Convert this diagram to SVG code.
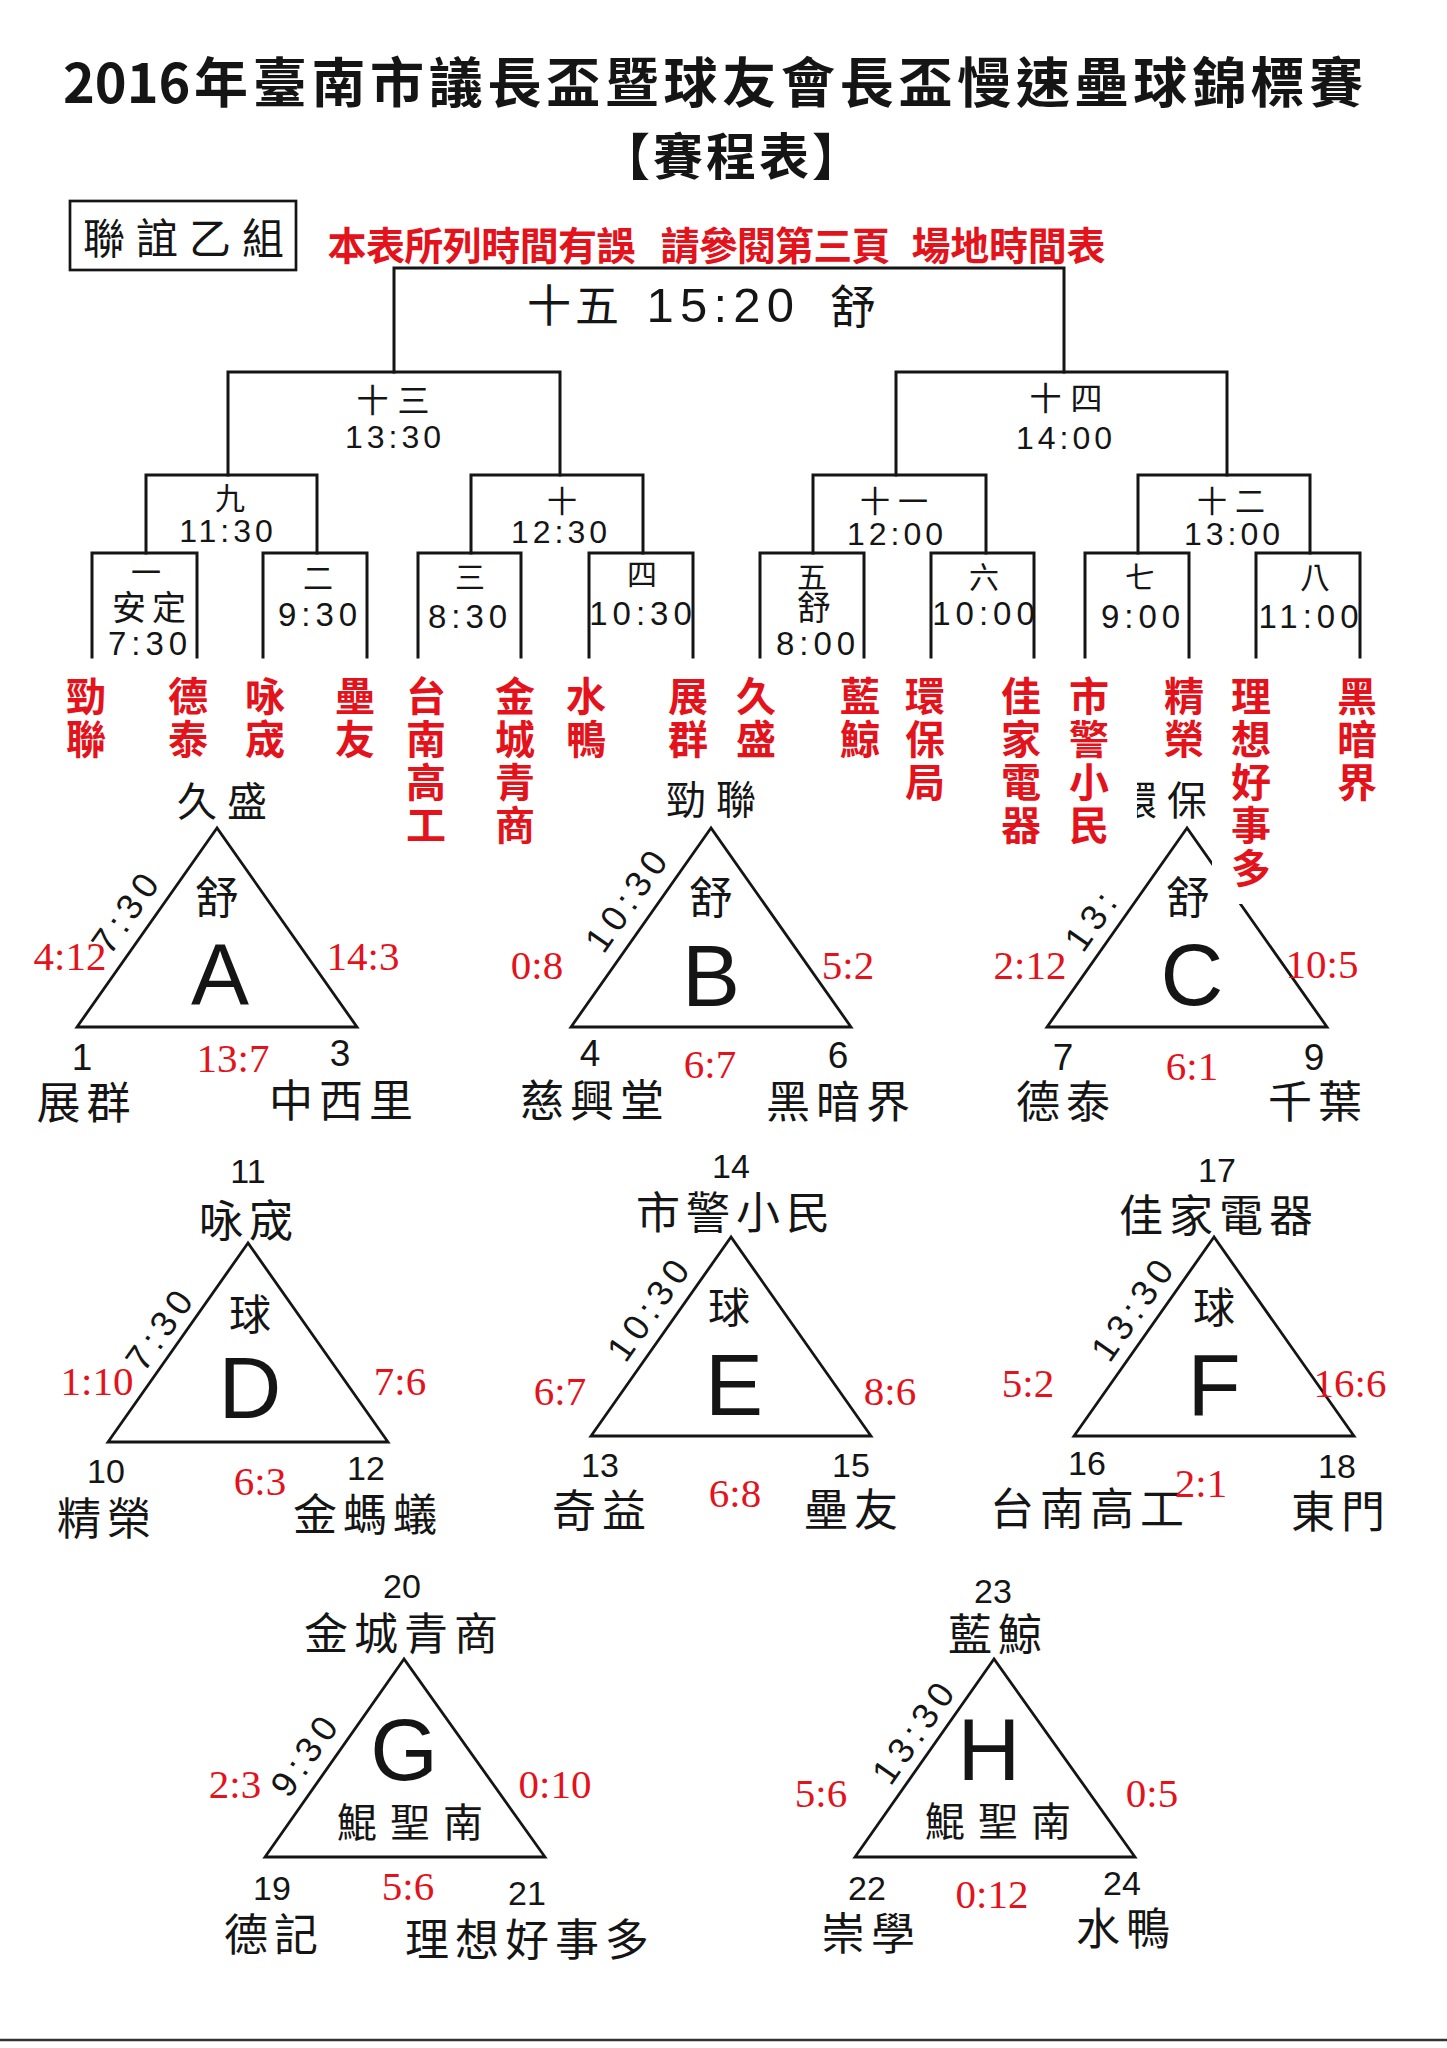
<svg xmlns="http://www.w3.org/2000/svg" width="1447" height="2048" viewBox="0 0 1447 2048">
<style>
.ln{fill:none;stroke:#151515;stroke-width:3;stroke-linecap:square}
.tri{fill:none;stroke:#151515;stroke-width:2.8;stroke-linejoin:miter}
.cjk{font-family:"Noto Sans CJK TC","Noto Sans CJK SC",sans-serif;fill:#151515}
.nm{font-family:"Noto Sans CJK TC","Noto Sans CJK SC",sans-serif;fill:#151515;font-size:44px;letter-spacing:6px;text-anchor:middle}
.nt{font-family:"Noto Sans CJK TC","Noto Sans CJK SC",sans-serif;fill:#151515;font-size:40px;letter-spacing:10px;text-anchor:middle}
.num{font-family:"Liberation Sans",Arial,sans-serif;fill:#151515;text-anchor:middle}
.nums{font-family:"Liberation Sans",Arial,sans-serif;fill:#151515;text-anchor:start}
.vn{font-family:"Liberation Sans",Arial,sans-serif;fill:#151515;font-size:34px;text-anchor:middle}
.vb{font-family:"Liberation Sans",Arial,sans-serif;fill:#151515;font-size:37px;text-anchor:middle}
.tm{font-family:"Liberation Sans",Arial,sans-serif;fill:#151515;font-size:33px;letter-spacing:5px;text-anchor:middle}
.rt{font-family:"Liberation Sans",Arial,sans-serif;fill:#151515;font-size:36px;letter-spacing:6px;text-anchor:middle}
.rts{font-family:"Liberation Sans",Arial,sans-serif;fill:#151515;font-size:36px;letter-spacing:6px;text-anchor:start}
.sc{font-family:"Liberation Serif","Times New Roman",serif;fill:#e3121b;font-size:41px;text-anchor:middle}
.red{font-family:"Noto Sans CJK TC","Noto Sans CJK SC",sans-serif;fill:#e3121b;font-weight:700;font-size:40px;text-anchor:middle}
.big{font-family:"Liberation Sans",Arial,sans-serif;fill:#151515;font-size:87px;text-anchor:middle}
.in{font-family:"Noto Sans CJK TC","Noto Sans CJK SC",sans-serif;fill:#151515;text-anchor:middle}
.lab{font-family:"Noto Sans CJK TC","Noto Sans CJK SC",sans-serif;fill:#151515;font-size:30px;text-anchor:middle}
</style>
<rect x="0" y="0" width="1447" height="2048" fill="#ffffff"/>

<g id="header">
<text class="cjk" font-weight="700" font-size="54" x="63" y="103">2016<tspan x="194" letter-spacing="4.7">年臺南市議長盃暨球友會長盃慢速壘球錦標賽</tspan></text>
<text class="cjk" font-weight="700" font-size="50" x="600" y="175" letter-spacing="3">【賽程表】</text>
<rect x="70" y="201" width="226" height="69" fill="none" stroke="#151515" stroke-width="2.7"/>
<text class="cjk" font-size="42" x="83" y="254" letter-spacing="11">聯誼乙組</text>
<g font-family="Noto Sans CJK TC, Noto Sans CJK SC, sans-serif" font-weight="700" font-size="39" fill="#e3121b">
<text x="327.5" y="260" textLength="308">本表所列時間有誤</text>
<text x="660.5" y="260" textLength="230">請參閱第三頁</text>
<text x="911.5" y="260" textLength="194">場地時間表</text>
</g>
</g>

<g id="connectors">
<path class="ln" d="M394,372 V268 H1064 V372"/>
<path class="ln" d="M228,475 V372 H560 V475"/>
<path class="ln" d="M896,475 V372 H1227 V475"/>
<path class="ln" d="M146,553 V475 H317 V553"/>
<path class="ln" d="M471,553 V475 H643 V553"/>
<path class="ln" d="M813,553 V475 H986 V553"/>
<path class="ln" d="M1138,553 V475 H1310 V553"/>
<path class="ln" d="M92,657 V553 H197 V657"/>
<path class="ln" d="M263,657 V553 H367 V657"/>
<path class="ln" d="M418,657 V553 H521 V657"/>
<path class="ln" d="M589,657 V553 H693 V657"/>
<path class="ln" d="M760,657 V553 H864 V657"/>
<path class="ln" d="M931,657 V553 H1034 V657"/>
<path class="ln" d="M1085,657 V553 H1189 V657"/>
<path class="ln" d="M1256,657 V553 H1360 V657"/>
</g>

<g id="m15">
<text class="cjk" font-size="44" x="527" y="322" letter-spacing="4">十五</text>
<text class="nums" font-size="49" x="646.6" y="322" letter-spacing="6.2">15:20</text>
<text class="cjk" font-size="46" x="830" y="323">舒</text>
</g>
<g id="m13">
<text class="cjk" font-size="32" x="397.5" y="412" letter-spacing="9" text-anchor="middle">十三</text>
<text class="num" font-size="32" x="395" y="448" letter-spacing="4">13:30</text>
</g>
<g id="m14">
<text class="cjk" font-size="32" x="1070.5" y="410" letter-spacing="9" text-anchor="middle">十四</text>
<text class="num" font-size="32" x="1066" y="449" letter-spacing="4">14:00</text>
</g>
<g id="m9"><text class="lab" x="230" y="509">九</text><text class="num" font-size="32" x="228" y="542" letter-spacing="4">11:30</text></g>
<g id="m10"><text class="lab" x="562" y="512">十</text><text class="num" font-size="32" x="561" y="543" letter-spacing="4">12:30</text></g>
<g id="m11"><text class="lab" x="898" y="512" letter-spacing="8">十一</text><text class="num" font-size="32" x="897" y="545" letter-spacing="4">12:00</text></g>
<g id="m12"><text class="lab" x="1235" y="512" letter-spacing="8">十二</text><text class="num" font-size="32" x="1234" y="545" letter-spacing="4">13:00</text></g>

<g id="m1"><text class="lab" x="146" y="583">一</text><text class="in" font-size="34" x="152" y="620" letter-spacing="6">安定</text><text class="tm" x="150" y="655">7:30</text></g>
<g id="m2"><text class="lab" x="318" y="589">二</text><text class="tm" x="320" y="626">9:30</text></g>
<g id="m3"><text class="lab" x="470" y="588">三</text><text class="tm" x="470" y="628">8:30</text></g>
<g id="m4"><text class="lab" x="642" y="585">四</text><text class="tm" x="643" y="625">10:30</text></g>
<g id="m5"><text class="lab" x="812" y="588">五</text><text class="in" font-size="34" x="814" y="620">舒</text><text class="tm" x="818" y="655">8:00</text></g>
<g id="m6"><text class="lab" x="984" y="588">六</text><text class="tm" x="986" y="625">10:00</text></g>
<g id="m7"><text class="lab" x="1140" y="588">七</text><text class="tm" x="1143" y="628">9:00</text></g>
<g id="m8"><text class="lab" x="1315" y="588">八</text><text class="tm" x="1311" y="628">11:00</text></g>

<g id="groupA">
<polygon class="tri" points="217,828 77,1027 357,1027"/>
<text class="nt" x="227" y="816">久盛</text>
<text class="in" font-size="44" x="217" y="914">舒</text>
<text class="big" x="220" y="1005">A</text>
<g transform="translate(128,908) rotate(-55)"><text class="rt" x="-3" y="13">7:30</text></g>
<text class="sc" x="70" y="970">4:12</text>
<text class="sc" x="363" y="970">14:3</text>
<text class="sc" x="233" y="1072">13:7</text>
<text class="vb" x="82" y="1070">1</text>
<text class="vb" x="340" y="1066">3</text>
<text class="nm" x="86.5" y="1119">展群</text>
<text class="nm" x="344" y="1117">中西里</text>
</g>

<g id="groupB">
<polygon class="tri" points="711,828 571,1027 851,1027"/>
<text class="nt" x="716" y="814">勁聯</text>
<text class="in" font-size="44" x="711" y="914">舒</text>
<text class="big" x="711" y="1006">B</text>
<g transform="translate(629,896) rotate(-55)"><text class="rt" x="-3" y="13">10:30</text></g>
<text class="sc" x="537" y="979">0:8</text>
<text class="sc" x="848" y="979">5:2</text>
<text class="sc" x="710" y="1078">6:7</text>
<text class="vb" x="590" y="1066">4</text>
<text class="vb" x="838" y="1068">6</text>
<text class="nm" x="595" y="1117">慈興堂</text>
<text class="nm" x="841" y="1118">黑暗界</text>
</g>

<g id="groupC">
<polygon class="tri" points="1187,828 1047,1027 1327,1027"/>
<text class="nt" x="1167" y="815">環保</text>
<text class="in" font-size="44" x="1188" y="914">舒</text>
<text class="big" x="1192" y="1005">C</text>
<g transform="translate(1083,954) rotate(-55)"><text class="rts" x="0" y="0">13:30</text><rect x="66" y="-33" width="60" height="39" fill="#ffffff"/></g>
<text class="sc" x="1030" y="979">2:12</text>
<text class="sc" x="1322" y="978">10:5</text>
<text class="sc" x="1192" y="1080">6:1</text>
<text class="vb" x="1063" y="1070">7</text>
<text class="vb" x="1314" y="1070">9</text>
<text class="nm" x="1066" y="1118">德泰</text>
<text class="nm" x="1318" y="1118">千葉</text>
</g>

<g id="groupD">
<polygon class="tri" points="248,1243 108,1442 388,1442"/>
<text class="vn" x="248" y="1183">11</text>
<text class="nm" x="249" y="1237">咏宬</text>
<text class="in" font-size="42" x="250" y="1330">球</text>
<text class="big" x="250" y="1418">D</text>
<g transform="translate(162,1325) rotate(-55)"><text class="rt" x="-3" y="13">7:30</text></g>
<text class="sc" x="97" y="1395">1:10</text>
<text class="sc" x="400" y="1395">7:6</text>
<text class="sc" x="260" y="1495">6:3</text>
<text class="vn" x="106" y="1483">10</text>
<text class="vn" x="366" y="1480">12</text>
<text class="nm" x="107" y="1535">精榮</text>
<text class="nm" x="368" y="1531">金螞蟻</text>
</g>

<g id="groupE">
<polygon class="tri" points="731,1237 591,1436 871,1436"/>
<text class="vn" x="731" y="1178">14</text>
<text class="nm" x="736" y="1229">市警小民</text>
<text class="in" font-size="42" x="729" y="1323">球</text>
<text class="big" x="734" y="1415">E</text>
<g transform="translate(651,1305) rotate(-55)"><text class="rt" x="-3" y="13">10:30</text></g>
<text class="sc" x="560" y="1405">6:7</text>
<text class="sc" x="890" y="1405">8:6</text>
<text class="sc" x="735" y="1507">6:8</text>
<text class="vn" x="600" y="1477">13</text>
<text class="vn" x="851" y="1477">15</text>
<text class="nm" x="602" y="1527">奇益</text>
<text class="nm" x="854" y="1526">壘友</text>
</g>

<g id="groupF">
<polygon class="tri" points="1214,1237 1074,1436 1354,1436"/>
<text class="vn" x="1217" y="1182">17</text>
<text class="nm" x="1219" y="1232">佳家電器</text>
<text class="in" font-size="42" x="1214" y="1323">球</text>
<text class="big" x="1214" y="1415">F</text>
<g transform="translate(1135,1305) rotate(-55)"><text class="rt" x="-3" y="13">13:30</text></g>
<text class="sc" x="1028" y="1397">5:2</text>
<text class="vn" x="1087" y="1475">16</text>
<text class="vn" x="1337" y="1478">18</text>
<text class="nm" x="1090" y="1525">台南高工</text>
<text class="nm" x="1341" y="1528">東門</text>
<text class="sc" x="1350" y="1397">16:6</text>
<text class="sc" x="1201" y="1497">2:1</text>
</g>

<g id="groupG">
<polygon class="tri" points="404,1659 265,1857 545,1857"/>
<text class="vn" x="402" y="1598">20</text>
<text class="nm" x="404" y="1650">金城青商</text>
<text class="big" x="404" y="1780">G</text>
<text class="in" font-size="40" x="416.5" y="1837" letter-spacing="13">鯤聖南</text>
<g transform="translate(307,1751) rotate(-55)"><text class="rt" x="-3" y="13">9:30</text></g>
<text class="sc" x="235" y="1798">2:3</text>
<text class="sc" x="555" y="1798">0:10</text>
<text class="sc" x="408" y="1900">5:6</text>
<text class="vn" x="272" y="1900">19</text>
<text class="vn" x="527" y="1905">21</text>
<text class="nm" x="274" y="1951">德記</text>
<text class="nm" x="530" y="1956">理想好事多</text>
</g>

<g id="groupH">
<polygon class="tri" points="994,1659 855,1857 1135,1857"/>
<text class="vn" x="993" y="1603">23</text>
<text class="nm" x="998" y="1651">藍鯨</text>
<text class="big" x="989" y="1780">H</text>
<text class="in" font-size="40" x="1004.5" y="1836" letter-spacing="13">鯤聖南</text>
<g transform="translate(916,1728) rotate(-55)"><text class="rt" x="-3" y="13">13:30</text></g>
<text class="sc" x="821" y="1807">5:6</text>
<text class="sc" x="1152" y="1807">0:5</text>
<text class="sc" x="992" y="1908">0:12</text>
<text class="vn" x="867" y="1900">22</text>
<text class="vn" x="1122" y="1895">24</text>
<text class="nm" x="871" y="1950">崇學</text>
<text class="nm" x="1126" y="1945">水鴨</text>
</g>

<g id="covers" fill="#ffffff">
<rect x="1095" y="768" width="42" height="60"/>
<rect x="1212" y="676" width="60" height="228"/>
</g>

<g id="entrants" class="red">
<text x="86" y="711">勁<tspan x="86" y="754">聯</tspan></text>
<text x="188" y="711">德<tspan x="188" y="754">泰</tspan></text>
<text x="265" y="711">咏<tspan x="265" y="754">宬</tspan></text>
<text x="355" y="711">壘<tspan x="355" y="754">友</tspan></text>
<text x="426" y="711">台<tspan x="426" y="754">南</tspan><tspan x="426" y="797">高</tspan><tspan x="426" y="840">工</tspan></text>
<text x="515" y="711">金<tspan x="515" y="754">城</tspan><tspan x="515" y="797">青</tspan><tspan x="515" y="840">商</tspan></text>
<text x="586" y="711">水<tspan x="586" y="754">鴨</tspan></text>
<text x="688" y="711">展<tspan x="688" y="754">群</tspan></text>
<text x="756" y="711">久<tspan x="756" y="754">盛</tspan></text>
<text x="860" y="711">藍<tspan x="860" y="754">鯨</tspan></text>
<text x="925" y="711">環<tspan x="925" y="754">保</tspan><tspan x="925" y="797">局</tspan></text>
<text x="1021" y="711">佳<tspan x="1021" y="754">家</tspan><tspan x="1021" y="797">電</tspan><tspan x="1021" y="840">器</tspan></text>
<text x="1089" y="711">市<tspan x="1089" y="754">警</tspan><tspan x="1089" y="797">小</tspan><tspan x="1089" y="840">民</tspan></text>
<text x="1184" y="711">精<tspan x="1184" y="754">榮</tspan></text>
<text x="1251" y="711">理<tspan x="1251" y="754">想</tspan><tspan x="1251" y="797">好</tspan><tspan x="1251" y="840">事</tspan><tspan x="1251" y="883">多</tspan></text>
<text x="1357" y="711">黑<tspan x="1357" y="754">暗</tspan><tspan x="1357" y="797">界</tspan></text>
</g>

<line x1="0" y1="2040" x2="1447" y2="2040" stroke="#333333" stroke-width="2.5"/>
</svg>
